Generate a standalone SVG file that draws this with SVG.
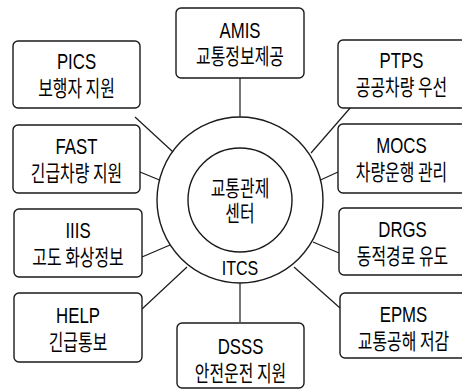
<svg xmlns="http://www.w3.org/2000/svg" width="462" height="390" viewBox="0 0 462 390">
  <style>
    .box { fill: #ffffff; stroke: #1a1a1a; stroke-width: 1.4; }
    .ring { fill: none; stroke: #1a1a1a; stroke-width: 1.4; }
    .link { fill: none; stroke: #1a1a1a; stroke-width: 1.2; }
    .en { font-family: "Liberation Sans", Arial, sans-serif; font-size: 21.5px; fill: #000; text-anchor: middle; }
    .ko { font-family: "Noto Sans CJK KR", "Noto Sans", sans-serif; font-size: 21.5px; fill: #000; text-anchor: middle; }
  </style>
  <rect width="462" height="390" fill="#ffffff"/>

  <!-- connectors from the ring to each service box -->
  <g id="connectors">
    <line class="link" x1="240" y1="78" x2="240" y2="117"/>
    <line class="link" x1="240" y1="283" x2="240" y2="322"/>
    <line class="link" x1="135" y1="117" x2="173" y2="152"/>
    <line class="link" x1="140" y1="172" x2="159.5" y2="180"/>
    <line class="link" x1="142" y1="257" x2="170" y2="245"/>
    <line class="link" x1="142" y1="309" x2="187" y2="267"/>
    <line class="link" x1="351" y1="107" x2="311" y2="153"/>
    <line class="link" x1="338" y1="172" x2="320.5" y2="180"/>
    <line class="link" x1="313" y1="242" x2="339" y2="253"/>
    <line class="link" x1="294" y1="267" x2="340" y2="308"/>
  </g>

  <!-- central control centre -->
  <g id="center">
    <circle class="ring" cx="240" cy="200" r="83"/>
    <circle class="ring" cx="240" cy="200" r="52"/>
    <text class="ko" transform="translate(240,196) scale(0.74,1)">교통관제</text>
    <text class="ko" transform="translate(240,221) scale(0.74,1)">센터</text>
    <text class="en" style="font-size:20px" transform="translate(240,275) scale(0.8,1)">ITCS</text>
  </g>

  <g id="amis">
    <rect class="box" x="176" y="8" width="128" height="70" rx="5"/>
    <text class="en" transform="translate(240,38) scale(0.78,1)">AMIS</text>
    <text class="ko" transform="translate(240,64) scale(0.74,1)">교통정보제공</text>
  </g>

  <g id="pics">
    <rect class="box" x="13" y="41" width="127" height="67" rx="5"/>
    <text class="en" transform="translate(76.5,69) scale(0.78,1)">PICS</text>
    <text class="ko" transform="translate(76.5,96) scale(0.74,1)">보행자 지원</text>
  </g>

  <g id="fast">
    <rect class="box" x="13" y="125" width="127" height="68" rx="5"/>
    <text class="en" transform="translate(76.5,154) scale(0.78,1)">FAST</text>
    <text class="ko" transform="translate(76.5,181) scale(0.74,1)">긴급차량 지원</text>
  </g>

  <g id="iiis">
    <rect class="box" x="14" y="209" width="128" height="68" rx="5"/>
    <text class="en" transform="translate(78,238) scale(0.78,1)">IIIS</text>
    <text class="ko" transform="translate(78,265) scale(0.74,1)">고도 화상정보</text>
  </g>

  <g id="help">
    <rect class="box" x="14" y="293" width="128" height="69" rx="5"/>
    <text class="en" transform="translate(78,323) scale(0.78,1)">HELP</text>
    <text class="ko" transform="translate(78,350) scale(0.74,1)">긴급통보</text>
  </g>

  <g id="ptps">
    <rect class="box" x="338" y="40" width="128" height="68" rx="5"/>
    <text class="en" transform="translate(401.5,68) scale(0.78,1)">PTPS</text>
    <text class="ko" transform="translate(401.5,95) scale(0.74,1)">공공차량 우선</text>
  </g>

  <g id="mocs">
    <rect class="box" x="338" y="124" width="128" height="69" rx="5"/>
    <text class="en" transform="translate(401.5,153) scale(0.78,1)">MOCS</text>
    <text class="ko" transform="translate(401.5,180) scale(0.74,1)">차량운행 관리</text>
  </g>

  <g id="drgs">
    <rect class="box" x="339" y="208" width="128" height="67" rx="5"/>
    <text class="en" transform="translate(402.5,237) scale(0.78,1)">DRGS</text>
    <text class="ko" transform="translate(402.5,264) scale(0.74,1)">동적경로 유도</text>
  </g>

  <g id="epms">
    <rect class="box" x="340" y="293" width="128" height="65" rx="5"/>
    <text class="en" transform="translate(403.5,322) scale(0.78,1)">EPMS</text>
    <text class="ko" transform="translate(403.5,349) scale(0.74,1)">교통공해 저감</text>
  </g>

  <g id="dsss">
    <rect class="box" x="177" y="323" width="127" height="65" rx="5"/>
    <text class="en" transform="translate(240.5,354) scale(0.78,1)">DSSS</text>
    <text class="ko" transform="translate(240.5,381) scale(0.74,1)">안전운전 지원</text>
  </g>
</svg>
